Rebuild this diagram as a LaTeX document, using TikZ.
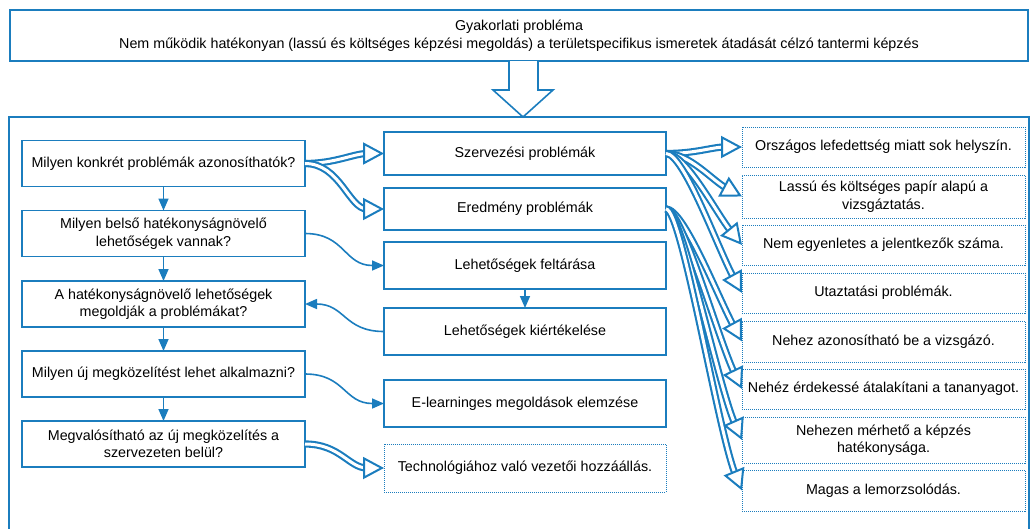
\documentclass[tikz,border=0pt]{standalone}
\usepackage{fontspec}
\setmainfont{Liberation Sans}
\usetikzlibrary{arrows.meta,calc}
\definecolor{flowblue}{RGB}{27,125,190}

\begin{document}
\begin{tikzpicture}[x=1pt,y=-1pt,
  box/.style={draw=flowblue, line width=1.6pt, fill=white, inner sep=0pt, outer sep=0pt,
              align=center, font=\fontsize{14.3}{17.5}\selectfont},
  dotbox/.style={box, line width=1pt, dash pattern=on 1pt off 1pt},
  leftq/.style={box, minimum width=283pt, minimum height=46pt},
  midbox/.style={box, minimum width=282pt},
  rightbox/.style={dotbox, minimum width=283pt},
  thinarrow/.style={flowblue, line width=1.6pt, -{Triangle[length=12pt,width=10pt]}},
  % hollow double connector: blue outer band, white core, white-filled triangle head
  dblarrow/.style={draw=white, line width=3pt, shorten >=17pt,
                   preaction={draw=flowblue, line width=7.2pt},
                   postaction={draw=white, line width=0.01pt, shorten >=0pt,
                     -{Triangle[length=21pt, width=22pt, line width=2pt, color=flowblue, fill=white]}}},
]
\useasboundingbox (0,0) rectangle (1030,528);
\clip (0,0) rectangle (1030,528);

% outer frame holding the analysis
\draw[flowblue, line width=1.6pt] (9,117) rectangle (1029,540);

% problem statement
\node[box, minimum width=1018pt, minimum height=51pt, font=\fontsize{14.3}{18}\selectfont] (top) at (519,35.5)
  {Gyakorlati probléma\\Nem működik hatékonyan (lassú és költséges képzési megoldás) a területspecifikus ismeretek átadását célzó tantermi képzés};

% hollow block arrow from the statement down to the frame
\draw[flowblue, line width=1.6pt, fill=white, line join=miter]
  (509,61) -- (509,90) -- (493,90) -- (523,117) -- (553,90) -- (538,90) -- (538,61);

% left column: questions
\node[leftq] (q1) at (163.5,163.5) {Milyen konkrét problémák azonosíthatók?};
\node[leftq] (q2) at (163.5,233.5) {Milyen belső hatékonyságnövelő\\lehetőségek vannak?};
\node[leftq] (q3) at (163.5,304) {A hatékonyságnövelő lehetőségek\\megoldják a problémákat?};
\node[leftq] (q4) at (163.5,374) {Milyen új megközelítést lehet alkalmazni?};
\node[leftq] (q5) at (163.5,444) {Megvalósítható az új megközelítés a\\szervezeten belül?};

% middle column: activities
\node[midbox, minimum height=43pt] (sz) at (525,153.5) {Szervezési problémák};
\node[midbox, minimum height=42pt] (er) at (525,209) {Eredmény problémák};
\node[midbox, minimum height=47pt] (ft) at (525,265.5) {Lehetőségek feltárása};
\node[midbox, minimum height=47pt] (ki) at (525,331.5) {Lehetőségek kiértékelése};
\node[midbox, minimum height=47pt] (el) at (525,403.5) {E-learninges megoldások elemzése};
\node[dotbox, minimum width=282pt, minimum height=48pt] (te) at (525,468) {Technológiához való vezetői hozzáállás.};

% right column: identified problems
\node[rightbox, minimum height=40pt] (r1) at (883.5,147) {Országos lefedettség miatt sok helyszín.};
\node[rightbox, minimum height=43pt] (r2) at (883.5,196.5) {Lassú és költséges papír alapú a\\vizsgáztatás.};
\node[rightbox, minimum height=40pt] (r3) at (883.5,245) {Nem egyenletes a jelentkezők száma.};
\node[rightbox, minimum height=40pt] (r4) at (883.5,293) {Utaztatási problémák.};
\node[rightbox, minimum height=41pt] (r5) at (883.5,341.5) {Nehez azonosítható be a vizsgázó.};
\node[rightbox, minimum height=40pt] (r6) at (883.5,389) {Nehéz érdekessé átalakítani a tananyagot.};
\node[rightbox, minimum height=46pt] (r7) at (883.5,440) {Nehezen mérhető a képzés\\hatékonysága.};
\node[rightbox, minimum height=41pt] (r8) at (883.5,490.5) {Magas a lemorzsolódás.};

% question chain
\draw[thinarrow] (q1) -- (q2);
\draw[thinarrow] (q2) -- (q3);
\draw[thinarrow] (q3) -- (q4);
\draw[thinarrow] (q4) -- (q5);
\draw[thinarrow] (ft) -- (ki);

% links between questions and activities
\draw[dblarrow] (q1.east) .. controls +(30,0) and +(-30,0) .. (sz.west);
\draw[dblarrow] (q1.east) .. controls +(35,0) and +(-35,0) .. (er.west);
\draw[thinarrow] (q2.east) .. controls +(40,0) and +(-40,0) .. (ft.west);
\draw[thinarrow] (ki.west) .. controls +(-40,0) and +(40,0) .. (q3.east);
\draw[thinarrow] (q4.east) .. controls +(40,0) and +(-40,0) .. (el.west);
\draw[dblarrow] (q5.east) .. controls +(35,0) and +(-35,0) .. (te.west);

% organisational problems
\draw[dblarrow] (sz.east) .. controls +(30,0) and +(-30,0) .. (r1.west);
\draw[dblarrow] (sz.east) .. controls +(24,0) and +(-30,-16) .. (r2.west);
\draw[dblarrow] (sz.east) .. controls +(20,0) and +(-26,-32) .. (r3.west);
\draw[dblarrow] (sz.east) .. controls +(18,0) and +(-24,-44) .. (r4.west);
% outcome problems
\draw[dblarrow] (er.east) .. controls +(18,0) and +(-24,-44) .. (r5.west);
\draw[dblarrow] (er.east) .. controls +(16,0) and +(-24,-50) .. (r6.west);
\draw[dblarrow] (er.east) .. controls +(16,0) and +(-24,-54) .. (r7.west);
\draw[dblarrow] (er.east) .. controls +(16,0) and +(-24,-58) .. (r8.west);
\end{tikzpicture}
\end{document}
